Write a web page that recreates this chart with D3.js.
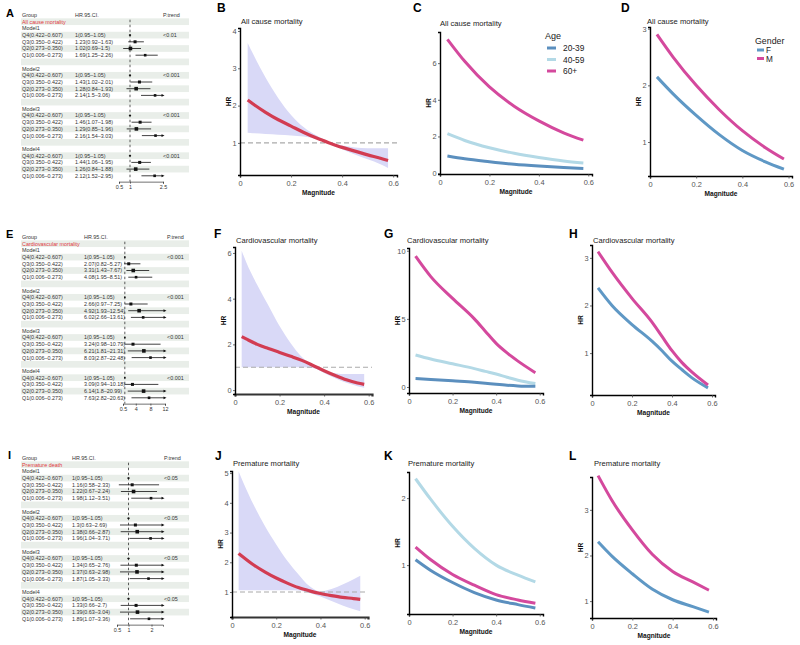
<!DOCTYPE html>
<html>
<head>
<meta charset="utf-8">
<script src="https://cdn.jsdelivr.net/npm/d3@7"></script>
<style>
body { margin: 0; background: #fff; }
text { font-family: "Liberation Sans", Arial, sans-serif; fill: #222; }
</style>
</head>
<body>
<script>
// ---------- forest plot data ----------
var quartiles = ['Q4(0.422\u20130.607)', 'Q3(0.350\u20130.422)', 'Q2(0.273\u20130.350)', 'Q1(0.006\u20130.273)'];
var models = ['Model1', 'Model2', 'Model3', 'Model4'];

var allCauseEst  = [[1, 1.23, 1.02, 1.69], [1, 1.43, 1.28, 2.14], [1, 1.46, 1.29, 2.16], [1, 1.44, 1.26, 2.12]];
var allCauseLow  = [[0.95, 0.92, 0.69, 1.25], [0.95, 1.02, 0.84, 1.5], [0.95, 1.07, 0.85, 1.54], [0.95, 1.06, 0.84, 1.52]];
var allCauseHigh = [[1.05, 1.63, 1.5, 2.26], [1.05, 2.01, 1.93, 3.06], [1.05, 1.98, 1.96, 3.03], [1.05, 1.95, 1.88, 2.95]];
var allCauseP    = ['<0.01', '<0.001', '<0.001', '<0.001'];

var cvdEst  = [[1, 2.07, 3.31, 4.08], [1, 2.66, 4.92, 6.02], [1, 3.24, 6.21, 8.03], [1, 3.09, 6.14, 7.63]];
var cvdLow  = [[0.95, 0.82, 1.43, 1.95], [0.95, 0.97, 1.93, 2.66], [0.95, 0.98, 1.81, 2.87], [0.95, 0.94, 1.8, 2.82]];
var cvdHigh = [[1.05, 5.27, 7.67, 8.51], [1.05, 7.25, 12.54, 13.61], [1.05, 10.79, 21.31, 22.48], [1.05, 10.18, 20.99, 20.63]];
var cvdP    = ['<0.001', '<0.001', '<0.001', '<0.001'];

var premEst  = [[1, 1.16, 1.22, 1.98], [1, 1.3, 1.38, 1.96], [1, 1.34, 1.37, 1.87], [1, 1.33, 1.39, 1.89]];
var premLow  = [[0.95, 0.58, 0.67, 1.12], [0.95, 0.63, 0.66, 1.04], [0.95, 0.65, 0.63, 1.05], [0.95, 0.66, 0.63, 1.07]];
var premHigh = [[1.05, 2.33, 2.24, 3.51], [1.05, 2.69, 2.87, 3.71], [1.05, 2.76, 2.98, 3.33], [1.05, 2.7, 3.04, 3.36]];
var premP    = ['<0.05', '<0.05', '<0.05', '<0.05'];

// ---------- dose-response curves ----------
var bandMagnitude = [0.03, 0.05, 0.1, 0.15, 0.2, 0.25, 0.3, 0.35, 0.4, 0.45, 0.5, 0.55, 0.58];
var allCauseFit   = [2.15, 2.05, 1.82, 1.62, 1.45, 1.28, 1.13, 1.0, 0.88, 0.78, 0.68, 0.59, 0.53];
var allCauseUpper = [3.68, 3.4, 2.75, 2.2, 1.75, 1.42, 1.2, 1.03, 0.93, 0.88, 0.86, 0.86, 0.86];
var allCauseLower = [1.27, 1.26, 1.24, 1.22, 1.2, 1.17, 1.1, 0.98, 0.83, 0.69, 0.56, 0.43, 0.33];
var cvdFit   = [2.34, 2.24, 2.0, 1.82, 1.65, 1.48, 1.3, 1.08, 0.85, 0.64, 0.45, 0.31, 0.25];
var cvdUpper = [6.1, 5.6, 4.6, 3.7, 2.8, 2.05, 1.45, 1.08, 0.85, 0.74, 0.7, 0.7, 0.7];
var cvdLower = [1.0, 1.0, 1.0, 1.0, 1.0, 1.0, 1.0, 0.97, 0.75, 0.52, 0.32, 0.17, 0.1];
var premFit   = [2.3, 2.18, 1.9, 1.67, 1.47, 1.3, 1.15, 1.04, 0.95, 0.88, 0.82, 0.78, 0.75];
var premUpper = [5.05, 4.7, 3.9, 3.2, 2.6, 2.05, 1.6, 1.2, 1.02, 1.1, 1.25, 1.43, 1.55];
var premLower = [1.06, 1.06, 1.06, 1.06, 1.06, 1.06, 1.05, 0.97, 0.85, 0.7, 0.55, 0.42, 0.35];

var subMagnitude = [0.03, 0.1, 0.2, 0.3, 0.4, 0.5, 0.58];
var allAge2039 = [0.93, 0.78, 0.62, 0.48, 0.38, 0.3, 0.25];
var allAge4059 = [2.15, 1.78, 1.38, 1.08, 0.85, 0.66, 0.55];
var allAge60   = [7.3, 6.1, 4.7, 3.65, 2.85, 2.2, 1.8];
var allFemale  = [2.15, 1.85, 1.47, 1.13, 0.85, 0.65, 0.52];
var allMale    = [2.9, 2.5, 2.0, 1.57, 1.2, 0.9, 0.7];

var cvdMagnitude = [0.03, 0.1, 0.2, 0.3, 0.35, 0.4, 0.45, 0.5, 0.58];
var cvdAge2039 = [0.62, 0.55, 0.45, 0.35, 0.28, 0.2, 0.13, 0.08, 0.05];
var cvdAge4059 = [2.35, 2.05, 1.7, 1.35, 1.15, 0.95, 0.72, 0.5, 0.25];
var cvdAge60   = [9.6, 8.1, 6.5, 5.0, 4.1, 3.2, 2.5, 1.9, 1.05];
var cvdFemale  = [2.37, 2.0, 1.6, 1.25, 1.05, 0.83, 0.65, 0.48, 0.27];
var cvdMale    = [3.13, 2.7, 2.15, 1.65, 1.35, 1.05, 0.8, 0.6, 0.33];

var premAge2039 = [1.08, 0.92, 0.74, 0.59, 0.48, 0.41, 0.36];
var premAge4059 = [2.29, 1.98, 1.58, 1.25, 1.0, 0.85, 0.75];
var premAge60   = [1.27, 1.08, 0.86, 0.7, 0.56, 0.48, 0.43];
var premFemale  = [2.3, 1.98, 1.6, 1.26, 1.03, 0.88, 0.76];
var premMale    = [3.75, 3.2, 2.56, 2.02, 1.65, 1.42, 1.24];

var ageGroups = ['20-39', '40-59', '60+'];
var ageColors = ['#5b8fbe', '#b3d9e6', '#d4499d'];
var genders = ['F', 'M'];
var genderColors = ['#5f98c5', '#d4499d'];

var width = 800, height = 645;
var svg = d3.select('body').append('svg')
    .attr('width', width)
    .attr('height', height);

function zip(xs, ys) {
    return xs.map(function(d, i) { return {x: d, y: ys[i]}; });
}
function plain(d) { return String(d); }

// ---------- forest plot ----------
function drawForest(cfg) {
    var g = svg.append('g');
    var rowH = 6.7;
    var rowY = function(i) { return cfg.top + i * rowH; };
    var x = d3.scaleLinear().domain(cfg.domain).range(cfg.range);
    var boxSize = [1.6, 3, 3.6, 2.6];

    g.append('text').attr('x', cfg.lx).attr('y', cfg.ly)
        .attr('font-size', '11px').attr('font-weight', 'bold').style('fill', '#000').text(cfg.letter);

    // stripes on odd rows
    for (var i = 1; i <= 23; i += 2) {
        g.append('rect').attr('x', 21).attr('y', rowY(i) - rowH / 2)
            .attr('width', 168).attr('height', rowH).attr('fill', '#e9eee9');
    }

    var txt = function(xx, yy, s, col) {
        return g.append('text').attr('x', xx).attr('y', yy + 1.9)
            .attr('font-size', '5.4px').style('fill', col || '#333').text(s);
    };
    txt(22, rowY(0), 'Group');
    txt(cfg.colHR, rowY(0), 'HR.95.CI.');
    txt(cfg.colP, rowY(0), 'P.trend');
    txt(22, rowY(1), cfg.outcome, '#e0393e');

    var axisY = rowY(24) + rowH / 2 + 2.5;
    g.append('line').attr('x1', x(1)).attr('x2', x(1))
        .attr('y1', rowY(1) - 2).attr('y2', axisY)
        .attr('stroke', '#333').attr('stroke-width', 0.8)
        .attr('stroke-dasharray', '2.5,2.5');

    models.forEach(function(m, mi) {
        var base = 2 + mi * 6;
        txt(22, rowY(base), m);
        quartiles.forEach(function(q, qi) {
            var yy = rowY(base + 1 + qi);
            var est = cfg.est[mi][qi], lo = cfg.low[mi][qi], hi = cfg.high[mi][qi];
            txt(22, yy, q);
            txt(cfg.colHR, yy, est + '(' + lo + '\u2013' + hi + ')');
            if (qi === 0) txt(cfg.colP, yy, cfg.p[mi]);
            var x0 = x(Math.max(lo, cfg.domain[0]));
            var x1 = x(Math.min(hi, cfg.domain[1]));
            g.append('line').attr('x1', x0).attr('x2', x1).attr('y1', yy).attr('y2', yy)
                .attr('stroke', '#111').attr('stroke-width', 0.8);
            if (hi > cfg.domain[1]) {
                g.append('path')
                    .attr('d', 'M' + (x1 + 1.5) + ',' + yy + 'L' + (x1 - 1.5) + ',' + (yy - 1.4) + 'L' + (x1 - 1.5) + ',' + (yy + 1.4) + 'Z')
                    .attr('fill', '#111');
            }
            var s = boxSize[qi];
            g.append('rect').attr('x', x(est) - s / 2).attr('y', yy - s / 2)
                .attr('width', s).attr('height', s).attr('fill', '#111');
        });
    });

    var ax = g.append('g').attr('transform', 'translate(0,' + axisY + ')')
        .call(d3.axisBottom(x).tickValues(cfg.ticks).tickSize(2).tickPadding(1.5).tickFormat(plain));
    ax.select('.domain').attr('stroke', '#333').attr('stroke-width', 0.7);
    ax.selectAll('.tick line').attr('stroke', '#333').attr('stroke-width', 0.7);
    ax.selectAll('text').attr('font-size', '5.4px').style('fill', '#333');
}

drawForest({letter: 'A', lx: 6, ly: 17, top: 15, outcome: 'All cause mortality',
    colHR: 75, colP: 163, domain: [0.5, 2.5], range: [119, 163], ticks: [0.5, 1, 2.5],
    est: allCauseEst, low: allCauseLow, high: allCauseHigh, p: allCauseP});
drawForest({letter: 'E', lx: 6, ly: 238, top: 237, outcome: 'Cardiovascular mortality',
    colHR: 84, colP: 167, domain: [0.5, 12], range: [123, 165], ticks: [0.5, 4, 8, 12],
    est: cvdEst, low: cvdLow, high: cvdHigh, p: cvdP});
drawForest({letter: 'I', lx: 8, ly: 459, top: 458, outcome: 'Premature death',
    colHR: 72, colP: 164, domain: [0.5, 2.5], range: [117, 163], ticks: [0.5, 1, 2],
    est: premEst, low: premLow, high: premHigh, p: premP});

// ---------- curve panels ----------
function drawCurve(cfg) {
    var g = svg.append('g');
    var x = d3.scaleLinear().domain([0, 0.615]).range([cfg.left, cfg.right]);
    var y = d3.scaleLinear().domain(cfg.yDomain).range([cfg.bottom, cfg.top]);

    g.append('text').attr('x', cfg.lx).attr('y', cfg.ly)
        .attr('font-size', '12px').attr('font-weight', 'bold').style('fill', '#000').text(cfg.letter);
    g.append('text').attr('x', cfg.tx).attr('y', cfg.ty)
        .attr('font-size', '7.6px').style('fill', '#222').text(cfg.title);

    if (cfg.band) {
        var pts = cfg.band.x.map(function(d, i) {
            return {x: d, lo: cfg.band.lower[i], hi: cfg.band.upper[i], fit: cfg.band.fit[i]};
        });
        g.append('path').datum(pts)
            .attr('d', d3.area().curve(d3.curveMonotoneX)
                .x(function(d) { return x(d.x); })
                .y0(function(d) { return y(d.lo); })
                .y1(function(d) { return y(d.hi); }))
            .attr('fill', '#d9d9f7');
        g.append('line').attr('x1', cfg.left).attr('x2', cfg.right)
            .attr('y1', y(1)).attr('y2', y(1))
            .attr('stroke', '#aaa').attr('stroke-width', 1.1)
            .attr('stroke-dasharray', '5,3');
        g.append('path').datum(pts)
            .attr('d', d3.line().curve(d3.curveMonotoneX)
                .x(function(d) { return x(d.x); })
                .y(function(d) { return y(d.fit); }))
            .attr('fill', 'none').attr('stroke', '#d23c52').attr('stroke-width', 3.2);
    }

    (cfg.series || []).forEach(function(s) {
        g.append('path').datum(zip(s.x, s.y))
            .attr('d', d3.line().curve(d3.curveMonotoneX)
                .x(function(d) { return x(d.x); })
                .y(function(d) { return y(d.y); }))
            .attr('fill', 'none').attr('stroke', s.color).attr('stroke-width', 3);
    });

    var xa = g.append('g').attr('transform', 'translate(0,' + cfg.bottom + ')')
        .call(d3.axisBottom(x).tickValues([0, 0.2, 0.4, 0.6]).tickSize(2.5).tickPadding(3).tickFormat(plain));
    xa.select('.domain').attr('stroke', cfg.thickX ? '#333' : '#000')
        .attr('stroke-width', cfg.thickX ? 2.2 : 1.4);
    var ya = g.append('g').attr('transform', 'translate(' + cfg.left + ',0)')
        .call(d3.axisLeft(y).tickValues(cfg.yTicks).tickSize(2).tickPadding(1.5).tickFormat(plain));
    ya.select('.domain').attr('stroke', '#000').attr('stroke-width', 1.4);
    [xa, ya].forEach(function(a) {
        a.selectAll('.tick line').attr('stroke', '#444').attr('stroke-width', 0.8);
        a.selectAll('.tick text').attr('font-size', '7.4px').style('fill', '#555');
    });

    g.append('text').attr('x', (cfg.left + cfg.right) / 2).attr('y', cfg.bottom + 19.5)
        .attr('text-anchor', 'middle').attr('font-size', '6.6px').attr('font-weight', 'bold')
        .style('fill', '#111').text('Magnitude');
    g.append('text')
        .attr('transform', 'translate(' + (cfg.left - 9.5) + ',' + ((cfg.top + cfg.bottom) / 2) + ') rotate(-90)')
        .attr('text-anchor', 'middle').attr('font-size', '6.6px').attr('font-weight', 'bold')
        .style('fill', '#111').text('HR');

    if (cfg.legend) {
        var L = cfg.legend;
        g.append('text').attr('x', L.x - 2).attr('y', L.y)
            .attr('font-size', L.titleSize).style('fill', '#222').text(L.title);
        L.labels.forEach(function(lab, i) {
            var yy = L.y + L.first + i * L.step;
            g.append('line').attr('x1', L.x).attr('x2', L.x + L.key)
                .attr('y1', yy).attr('y2', yy)
                .attr('stroke', L.colors[i]).attr('stroke-width', 3);
            g.append('text').attr('x', L.x + L.key + L.gap).attr('y', yy + 3)
                .attr('font-size', L.size).style('fill', '#222').text(lab);
        });
    }
}

function ageSeries(xs, a, b, c) {
    return [{x: xs, y: b, color: ageColors[1]}, {x: xs, y: a, color: ageColors[0]}, {x: xs, y: c, color: ageColors[2]}];
}
function genderSeries(xs, f, m) {
    return [{x: xs, y: f, color: genderColors[0]}, {x: xs, y: m, color: genderColors[1]}];
}

// row 1
drawCurve({letter: 'B', lx: 217, ly: 12, title: 'All cause mortality', tx: 241, ty: 24,
    left: 240, right: 397, top: 28, bottom: 175, yDomain: [0.14, 4.08], yTicks: [1, 2, 3, 4],
    band: {x: bandMagnitude, fit: allCauseFit, upper: allCauseUpper, lower: allCauseLower}});
drawCurve({letter: 'C', lx: 413, ly: 12, title: 'All cause mortality', tx: 440, ty: 26,
    left: 440, right: 592, top: 32, bottom: 174, yDomain: [-0.05, 7.7], yTicks: [0, 2, 4, 6],
    series: ageSeries(subMagnitude, allAge2039, allAge4059, allAge60),
    legend: {title: 'Age', labels: ageGroups, colors: ageColors, x: 547, y: 39, first: 9, step: 11.5,
        key: 9, gap: 7, size: '8.4px', titleSize: '9px'}});
drawCurve({letter: 'D', lx: 621, ly: 12, title: 'All cause mortality', tx: 647, ty: 24,
    left: 650, right: 792, top: 27, bottom: 176, yDomain: [0.4, 3.03], yTicks: [1, 2, 3],
    series: genderSeries(subMagnitude, allFemale, allMale),
    legend: {title: 'Gender', labels: genders, colors: genderColors, x: 757, y: 44, first: 6, step: 8.5,
        key: 7, gap: 2, size: '8.2px', titleSize: '8.8px'}});

// row 2
drawCurve({letter: 'F', lx: 214, ly: 238, title: 'Cardiovascular mortality', tx: 236, ty: 243,
    left: 235, right: 372, top: 247, bottom: 394, yDomain: [-0.17, 6.26], yTicks: [0, 2, 4, 6], thickX: true,
    band: {x: bandMagnitude, fit: cvdFit, upper: cvdUpper, lower: cvdLower}});
drawCurve({letter: 'G', lx: 384, ly: 238, title: 'Cardiovascular mortality', tx: 407, ty: 243,
    left: 409, right: 543, top: 248, bottom: 393, yDomain: [-0.44, 10.2], yTicks: [0, 5, 10],
    series: ageSeries(cvdMagnitude, cvdAge2039, cvdAge4059, cvdAge60)});
drawCurve({letter: 'H', lx: 569, ly: 238, title: 'Cardiovascular mortality', tx: 593, ty: 243,
    left: 592, right: 715, top: 245, bottom: 395, yDomain: [0.12, 3.27], yTicks: [1, 2, 3],
    series: genderSeries(cvdMagnitude, cvdFemale, cvdMale)});

// row 3
drawCurve({letter: 'J', lx: 215, ly: 460, title: 'Premature mortality', tx: 233, ty: 466,
    left: 232, right: 368, top: 471, bottom: 617, yDomain: [0.16, 5.07], yTicks: [1, 2, 3, 4, 5], thickX: true,
    band: {x: bandMagnitude, fit: premFit, upper: premUpper, lower: premLower}});
drawCurve({letter: 'K', lx: 384, ly: 460, title: 'Premature mortality', tx: 408, ty: 466,
    left: 409, right: 543, top: 472, bottom: 614, yDomain: [0.27, 2.39], yTicks: [1, 2],
    series: ageSeries(subMagnitude, premAge2039, premAge4059, premAge60)});
drawCurve({letter: 'L', lx: 569, ly: 460, title: 'Premature mortality', tx: 594, ty: 466,
    left: 592, right: 716, top: 477, bottom: 618, yDomain: [0.63, 3.72], yTicks: [1, 2, 3],
    series: genderSeries(subMagnitude, premFemale, premMale)});
</script>
</body>
</html>
